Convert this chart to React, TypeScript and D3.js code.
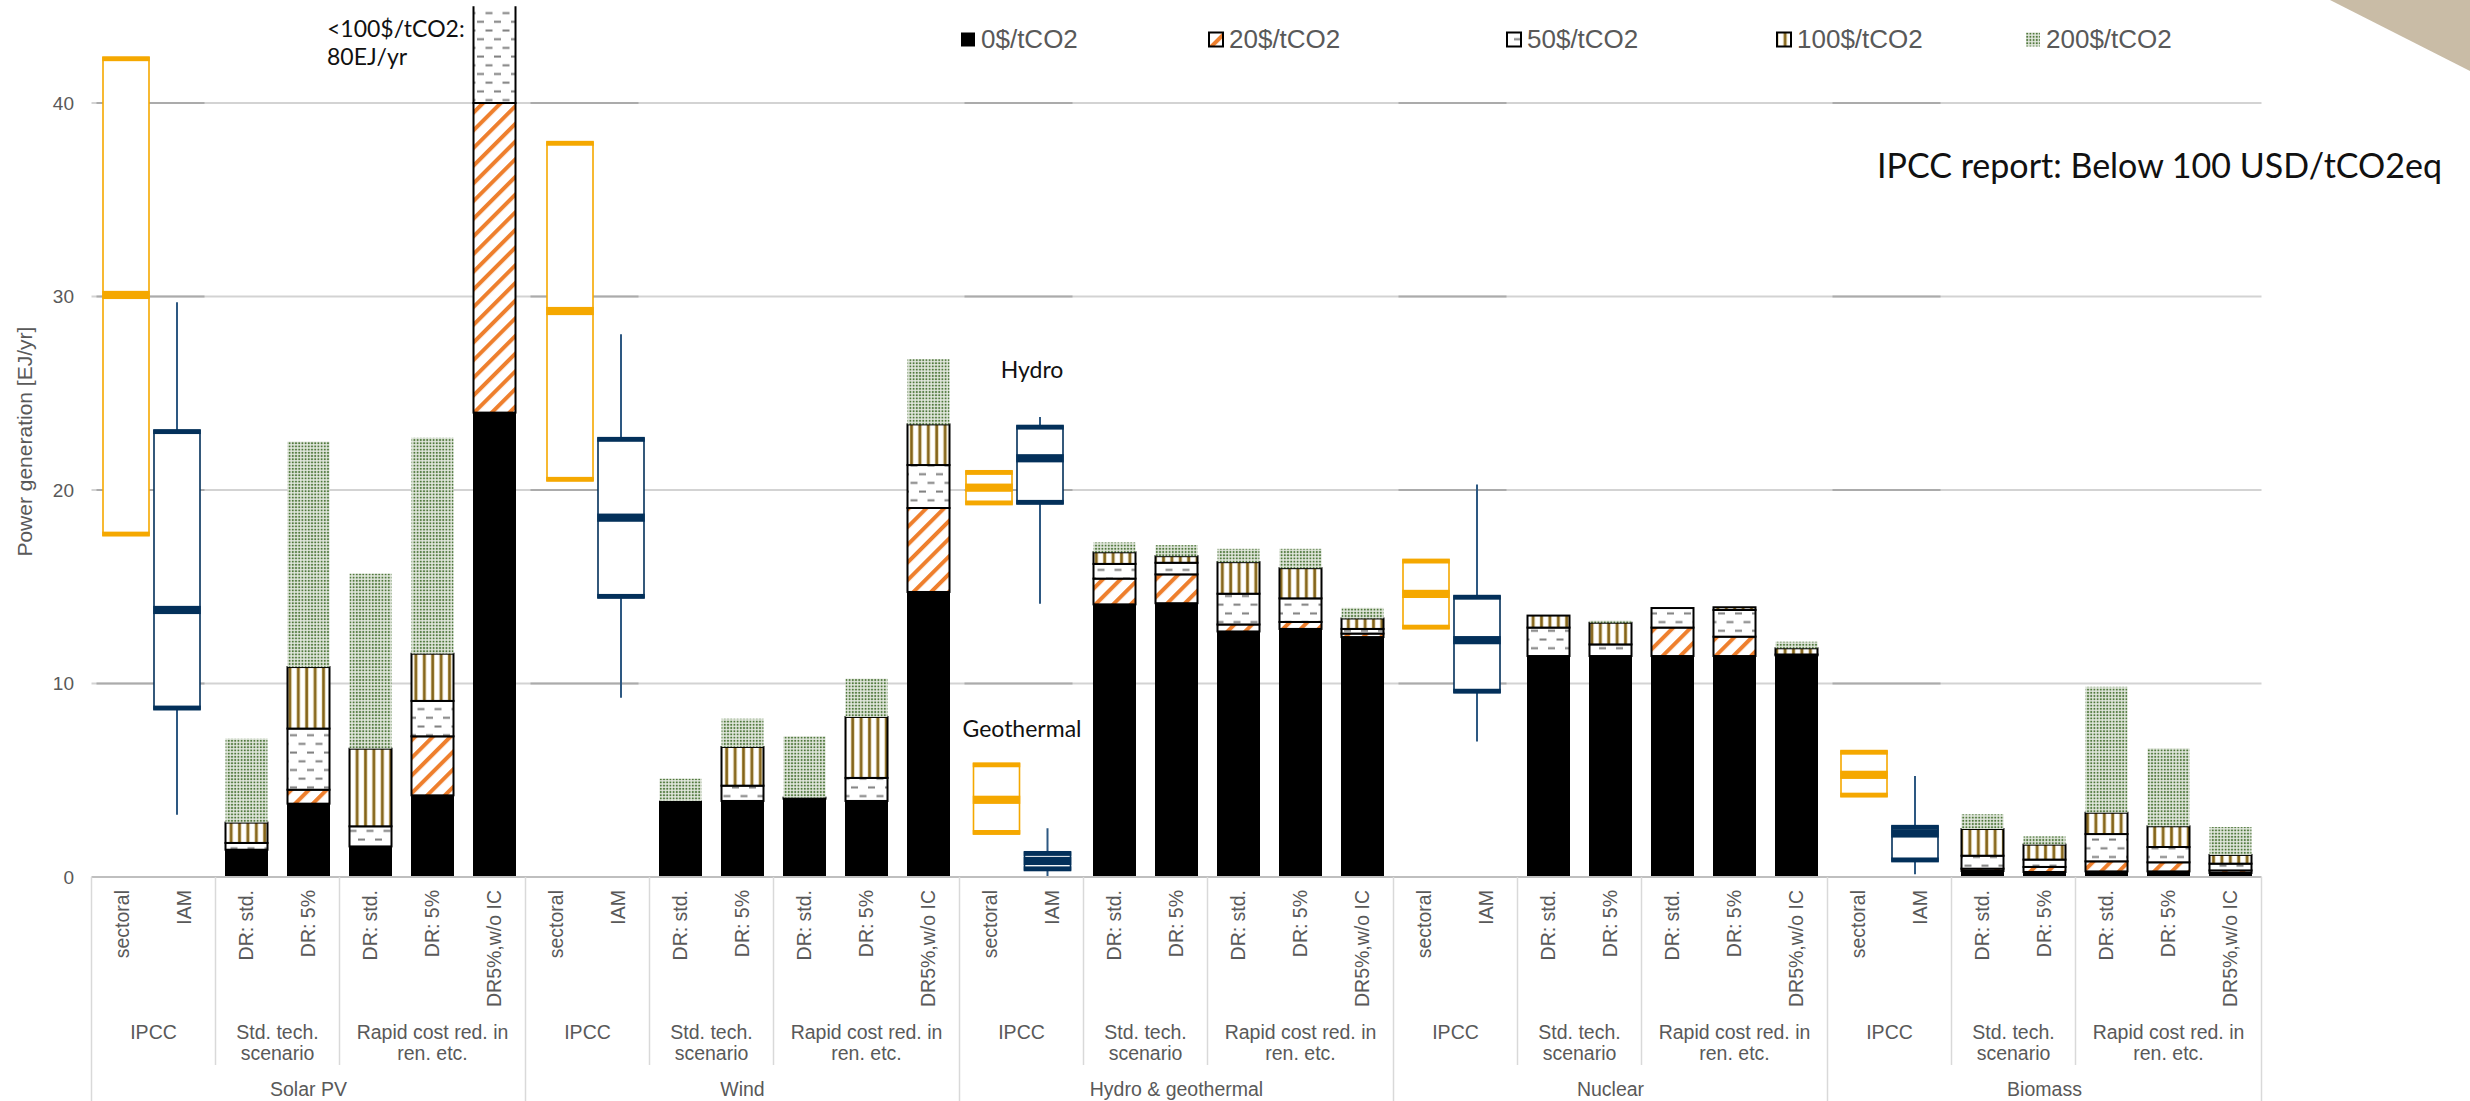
import React from 'react';
import * as d3 from 'd3';

const W = 2470;
const H = 1101;

// Category structure
const techGroups = ['Solar PV', 'Wind', 'Hydro & geothermal', 'Nuclear', 'Biomass'];
const scenarioGroups = [
  { lines: ['IPCC'], size: 2 },
  { lines: ['Std. tech.', 'scenario'], size: 2 },
  { lines: ['Rapid cost red. in', 'ren. etc.'], size: 3 },
];
const caseLabels = ['sectoral', 'IAM', 'DR: std.', 'DR: 5%', 'DR: std.', 'DR: 5%', 'DR5%,w/o IC'];
const carbonPrices = ['0$/tCO2', '20$/tCO2', '50$/tCO2', '100$/tCO2', '200$/tCO2'];

// Additional generation unlocked at each carbon price [EJ/yr].
// Per technology: Std DR std, Std DR 5%, Rapid DR std, Rapid DR 5%, Rapid DR5% w/o IC
const at0 = [1.41, 3.79, 1.58, 4.22, 24.0, 3.93, 3.93, 4.05, 3.93, 14.73, 14.09, 14.15, 12.69, 12.82, 12.4, 11.42, 11.42, 11.42, 11.42, 11.45, 0.31, 0.26, 0.29, 0.29, 0.21];
const at20 = [0, 0.72, 0, 3.05, 16.0, 0, 0, 0, 0, 4.34, 1.33, 1.49, 0.36, 0.36, 0.18, 0, 0, 1.47, 1.0, 0, 0.12, 0.26, 0.52, 0.47, 0.13];
const at50 = [0.35, 3.16, 1.04, 1.83, 22.0, 0, 0.79, 0, 1.19, 2.22, 0.76, 0.6, 1.59, 1.22, 0.24, 1.47, 0.6, 1.01, 1.38, 0.05, 0.67, 0.38, 1.41, 0.79, 0.35];
const at100 = [1.05, 3.18, 4.01, 2.44, 18.0, 0, 2.0, 0.05, 3.15, 2.1, 0.6, 0.34, 1.63, 1.56, 0.54, 0.62, 1.12, 0, 0.14, 0.32, 1.38, 0.77, 1.1, 1.07, 0.45];
const at200 = [4.34, 11.65, 9.05, 11.16, 5.0, 1.15, 1.46, 3.17, 1.98, 3.37, 0.51, 0.57, 0.69, 1.0, 0.55, 0, 0.11, 0, 0, 0.34, 0.76, 0.43, 6.51, 4.03, 1.44];

// IPCC ranges (box plots)
const boxNames = ['Solar PV', 'Wind', 'Hydro', 'Geothermal', 'Nuclear', 'Biomass'];
const boxTech = [0, 1, 2, 2, 3, 4];
const sectoralQ1 = [17.74, 20.57, 19.35, 2.32, 12.93, 4.25];
const sectoralMedian = [30.08, 29.25, 20.12, 3.99, 14.63, 5.28];
const sectoralQ3 = [42.27, 37.9, 20.89, 5.78, 16.31, 6.43];
const iamMin = [3.22, 9.27, 14.12, 0.04, 7.0, 0.14];
const iamQ1 = [8.75, 14.52, 19.38, 0.44, 9.62, 0.9];
const iamMedian = [13.8, 18.57, 21.64, 0.83, 12.24, 2.25];
const iamQ3 = [23.0, 22.6, 23.23, 1.2, 14.44, 2.55];
const iamMax = [29.7, 28.05, 23.77, 2.52, 20.29, 5.22];

const yTicks = [0, 10, 20, 30, 40];

// Styling and layout
const AXIS_FONT = "'Liberation Sans', Arial, sans-serif";
const NOTE_FONT = "Lato, 'Open Sans', sans-serif";
const AXIS_TEXT = '#595959';
const ORANGE = '#F5A800';
const NAVY = '#03305A';
const WHISKER = '#2D5882';
const segFill = ['#000000', 'url(#p20)', 'url(#p50)', 'url(#p100)', 'url(#p200)'];
const segStroke = ['#000000', '#000000', '#000000', '#000000', 'none'];
const legendX = [961, 1209, 1507, 1777, 2026];
const boxPairShift = [-2, 8, -7, 0.5, -4, 0];

export default function App() {
  const x = d3.scaleBand<number>().domain(d3.range(35)).range([91.5, 2261.5]);
  const y = d3.scaleLinear().domain([0, 45]).range([877, 6.25]);
  const bw = x.bandwidth();
  const barW = 42;
  const boxW = 46;
  const plotLeft = x.range()[0];
  const plotRight = x.range()[1];
  const groupW = bw * 7;

  const rows = at0.map((_, i) => ({
    idx: i,
    [carbonPrices[0]]: at0[i],
    [carbonPrices[1]]: at20[i],
    [carbonPrices[2]]: at50[i],
    [carbonPrices[3]]: at100[i],
    [carbonPrices[4]]: at200[i],
  }));
  const series = d3.stack<any>().keys(carbonPrices)(rows);
  const slotOf = (i: number) => Math.floor(i / 5) * 7 + 2 + (i % 5);

  const groupStart = (g: number) => x(g * 7) as number;

  const boxCenters = (b: number) => {
    const mid = groupStart(boxTech[b]) + bw + boxPairShift[b];
    return [mid - 25.5, mid + 25.5];
  };

  const band = (cx: number, v: number, h: number, color: string, key: string) => (
    <rect key={key} x={cx - boxW / 2 - 0.75} y={y(v) - h / 2} width={boxW + 1.5} height={h} fill={color} />
  );

  return (
    <svg width={W} height={H} viewBox={`0 0 ${W} ${H}`} style={{ position: 'absolute', left: 0, top: 0, background: '#fff' }}>
      <defs>
        <pattern id="p20" patternUnits="userSpaceOnUse" width="12.5" height="12.5" patternTransform="rotate(45)">
          <rect width="12.5" height="12.5" fill="#fff" />
          <rect x="0" y="0" width="4" height="12.5" fill="#EE7F2D" />
        </pattern>
        <pattern id="p50" patternUnits="userSpaceOnUse" width="17" height="17.4">
          <rect width="17" height="17.4" fill="#fff" />
          <rect x="1" y="3.4" width="7" height="2" fill="#7F7F7F" />
          <rect x="9.5" y="12.1" width="7" height="2" fill="#7F7F7F" />
        </pattern>
        <pattern id="p100" patternUnits="userSpaceOnUse" width="8.4" height="10">
          <rect width="8.4" height="10" fill="#fff" />
          <rect x="2.6" y="0" width="3.4" height="10" fill="#C9AE66" />
          <rect x="3.2" y="0" width="2.2" height="10" fill="#80611A" />
        </pattern>
        <pattern id="p200" patternUnits="userSpaceOnUse" width="3.2" height="3.2">
          <rect width="3.2" height="3.2" fill="#E2E7DD" />
          <circle cx="1.6" cy="1.6" r="1.05" fill="#4F783C" />
        </pattern>
        <clipPath id="plotClip">
          <rect x={plotLeft} y={y(45)} width={plotRight - plotLeft} height={y(0) - y(45)} />
        </clipPath>
      </defs>

      {/* decorative corner */}
      <polygon points="2330,0 2470,0 2470,71" fill="#C9BCA6" />

      {/* gridlines */}
      {yTicks.filter((t) => t > 0).map((t) => (
        <g key={`grid-${t}`}>
          <line x1={plotLeft} x2={plotRight} y1={y(t)} y2={y(t)} stroke="#D3D3D3" strokeWidth={2} />
          {techGroups.map((_, g) => (
            <line key={g} x1={groupStart(g) + 5} x2={groupStart(g) + 113} y1={y(t)} y2={y(t)} stroke="#ABABAB" strokeWidth={2} />
          ))}
        </g>
      ))}

      {/* y tick labels */}
      {yTicks.map((t) => (
        <text key={`yt-${t}`} x={74} y={y(t)} dy="0.35em" textAnchor="end" fontFamily={AXIS_FONT} fontSize={19} fill={AXIS_TEXT}>
          {t}
        </text>
      ))}
      <text
        transform={`translate(25,${(y(0) + y(45)) / 2}) rotate(-90)`}
        textAnchor="middle"
        dy="0.35em"
        fontFamily={AXIS_FONT}
        fontSize={21}
        fill={AXIS_TEXT}
      >
        Power generation [EJ/yr]
      </text>

      {/* stacked bars */}
      <g clipPath="url(#plotClip)">
        {series.map((s, k) => (
          <g key={`s-${k}`}>
            {s.map((d, i) => {
              if (d[1] - d[0] < 0.004) return null;
              const cx = (x(slotOf(i)) as number) + bw / 2;
              return (
                <rect
                  key={i}
                  x={cx - barW / 2}
                  y={y(d[1])}
                  width={barW}
                  height={y(d[0]) - y(d[1])}
                  fill={segFill[k]}
                  stroke={segStroke[k]}
                  strokeWidth={k === 0 ? 1 : 2}
                />
              );
            })}
          </g>
        ))}
      </g>

      {/* IPCC box plots */}
      {boxNames.map((name, b) => {
        const [cs, ci] = boxCenters(b);
        return (
          <g key={`box-${name}`}>
            <rect x={cs - boxW / 2} y={y(sectoralQ3[b]) - 2} width={boxW} height={y(sectoralQ1[b]) - y(sectoralQ3[b]) + 4} fill="#fff" stroke={ORANGE} strokeWidth={1.6} />
            {band(cs, sectoralQ1[b], 4.2, ORANGE, 'sq1')}
            {band(cs, sectoralQ3[b], 4.2, ORANGE, 'sq3')}
            {band(cs, sectoralMedian[b], 8.2, ORANGE, 'smed')}

            <line x1={ci} x2={ci} y1={y(iamMin[b])} y2={y(iamMax[b])} stroke={WHISKER} strokeWidth={2} />
            <rect x={ci - boxW / 2} y={y(iamQ3[b]) - 2} width={boxW} height={y(iamQ1[b]) - y(iamQ3[b]) + 4} fill="#fff" stroke={NAVY} strokeWidth={1.6} />
            {band(ci, iamQ1[b], 4.2, NAVY, 'iq1')}
            {band(ci, iamQ3[b], 4.2, NAVY, 'iq3')}
            {band(ci, iamMedian[b], 8.2, NAVY, 'imed')}
          </g>
        );
      })}

      {/* category axis */}
      <line x1={plotLeft} x2={plotRight} y1={y(0)} y2={y(0)} stroke="#BFBFBF" strokeWidth={2} />
      {techGroups.map((tech, g) => {
        const gx = groupStart(g);
        let offset = 0;
        return (
          <g key={`cat-${tech}`}>
            <line x1={gx} x2={gx} y1={y(0)} y2={H} stroke="#D9D9D9" strokeWidth={1.5} />
            {scenarioGroups.map((sg, si) => {
              const sx = gx + offset * bw;
              const cx = sx + (sg.size * bw) / 2;
              offset += sg.size;
              return (
                <g key={si}>
                  {si > 0 && <line x1={sx} x2={sx} y1={y(0)} y2={1065} stroke="#D9D9D9" strokeWidth={1.5} />}
                  {sg.lines.map((ln, li) => (
                    <text key={li} x={cx} y={1032 + li * 21.6} dy="0.35em" textAnchor="middle" fontFamily={AXIS_FONT} fontSize={19.5} fill={AXIS_TEXT}>
                      {ln}
                    </text>
                  ))}
                </g>
              );
            })}
            {caseLabels.map((lab, ci) => (
              <text
                key={`cl-${ci}`}
                transform={`translate(${(x(g * 7 + ci) as number) + bw / 2},890) rotate(-90)`}
                textAnchor="end"
                dy="0.35em"
                fontFamily={AXIS_FONT}
                fontSize={19.5}
                fill={AXIS_TEXT}
              >
                {lab}
              </text>
            ))}
            <text x={gx + groupW / 2} y={1089} dy="0.35em" textAnchor="middle" fontFamily={AXIS_FONT} fontSize={19.5} fill={AXIS_TEXT}>
              {tech}
            </text>
          </g>
        );
      })}
      <line x1={plotRight} x2={plotRight} y1={y(0)} y2={H} stroke="#D9D9D9" strokeWidth={1.5} />

      {/* legend */}
      {carbonPrices.map((p, k) => (
        <g key={`lg-${p}`}>
          <rect x={legendX[k]} y={32.5} width={14} height={14} fill={segFill[k]} stroke={segStroke[k]} strokeWidth={k === 0 ? 0 : 2} />
          <text x={legendX[k] + 20} y={48.3} fontFamily={AXIS_FONT} fontSize={26} fill={AXIS_TEXT}>
            {p}
          </text>
        </g>
      ))}

      {/* annotations */}
      <text x={327} y={36.7} fontFamily={NOTE_FONT} fontSize={23} fill="#111">
        {'<100$/tCO2:'}
      </text>
      <text x={327} y={65} fontFamily={NOTE_FONT} fontSize={23} fill="#111">
        80EJ/yr
      </text>
      <text x={1032} y={378} textAnchor="middle" fontFamily={NOTE_FONT} fontSize={23} fill="#111">
        Hydro
      </text>
      <text x={1022} y={737} textAnchor="middle" fontFamily={NOTE_FONT} fontSize={23} fill="#111">
        Geothermal
      </text>
      <text x={2442} y={178} textAnchor="end" fontFamily={NOTE_FONT} fontSize={34} fill="#111">
        IPCC report: Below 100 USD/tCO2eq
      </text>
    </svg>
  );
}
